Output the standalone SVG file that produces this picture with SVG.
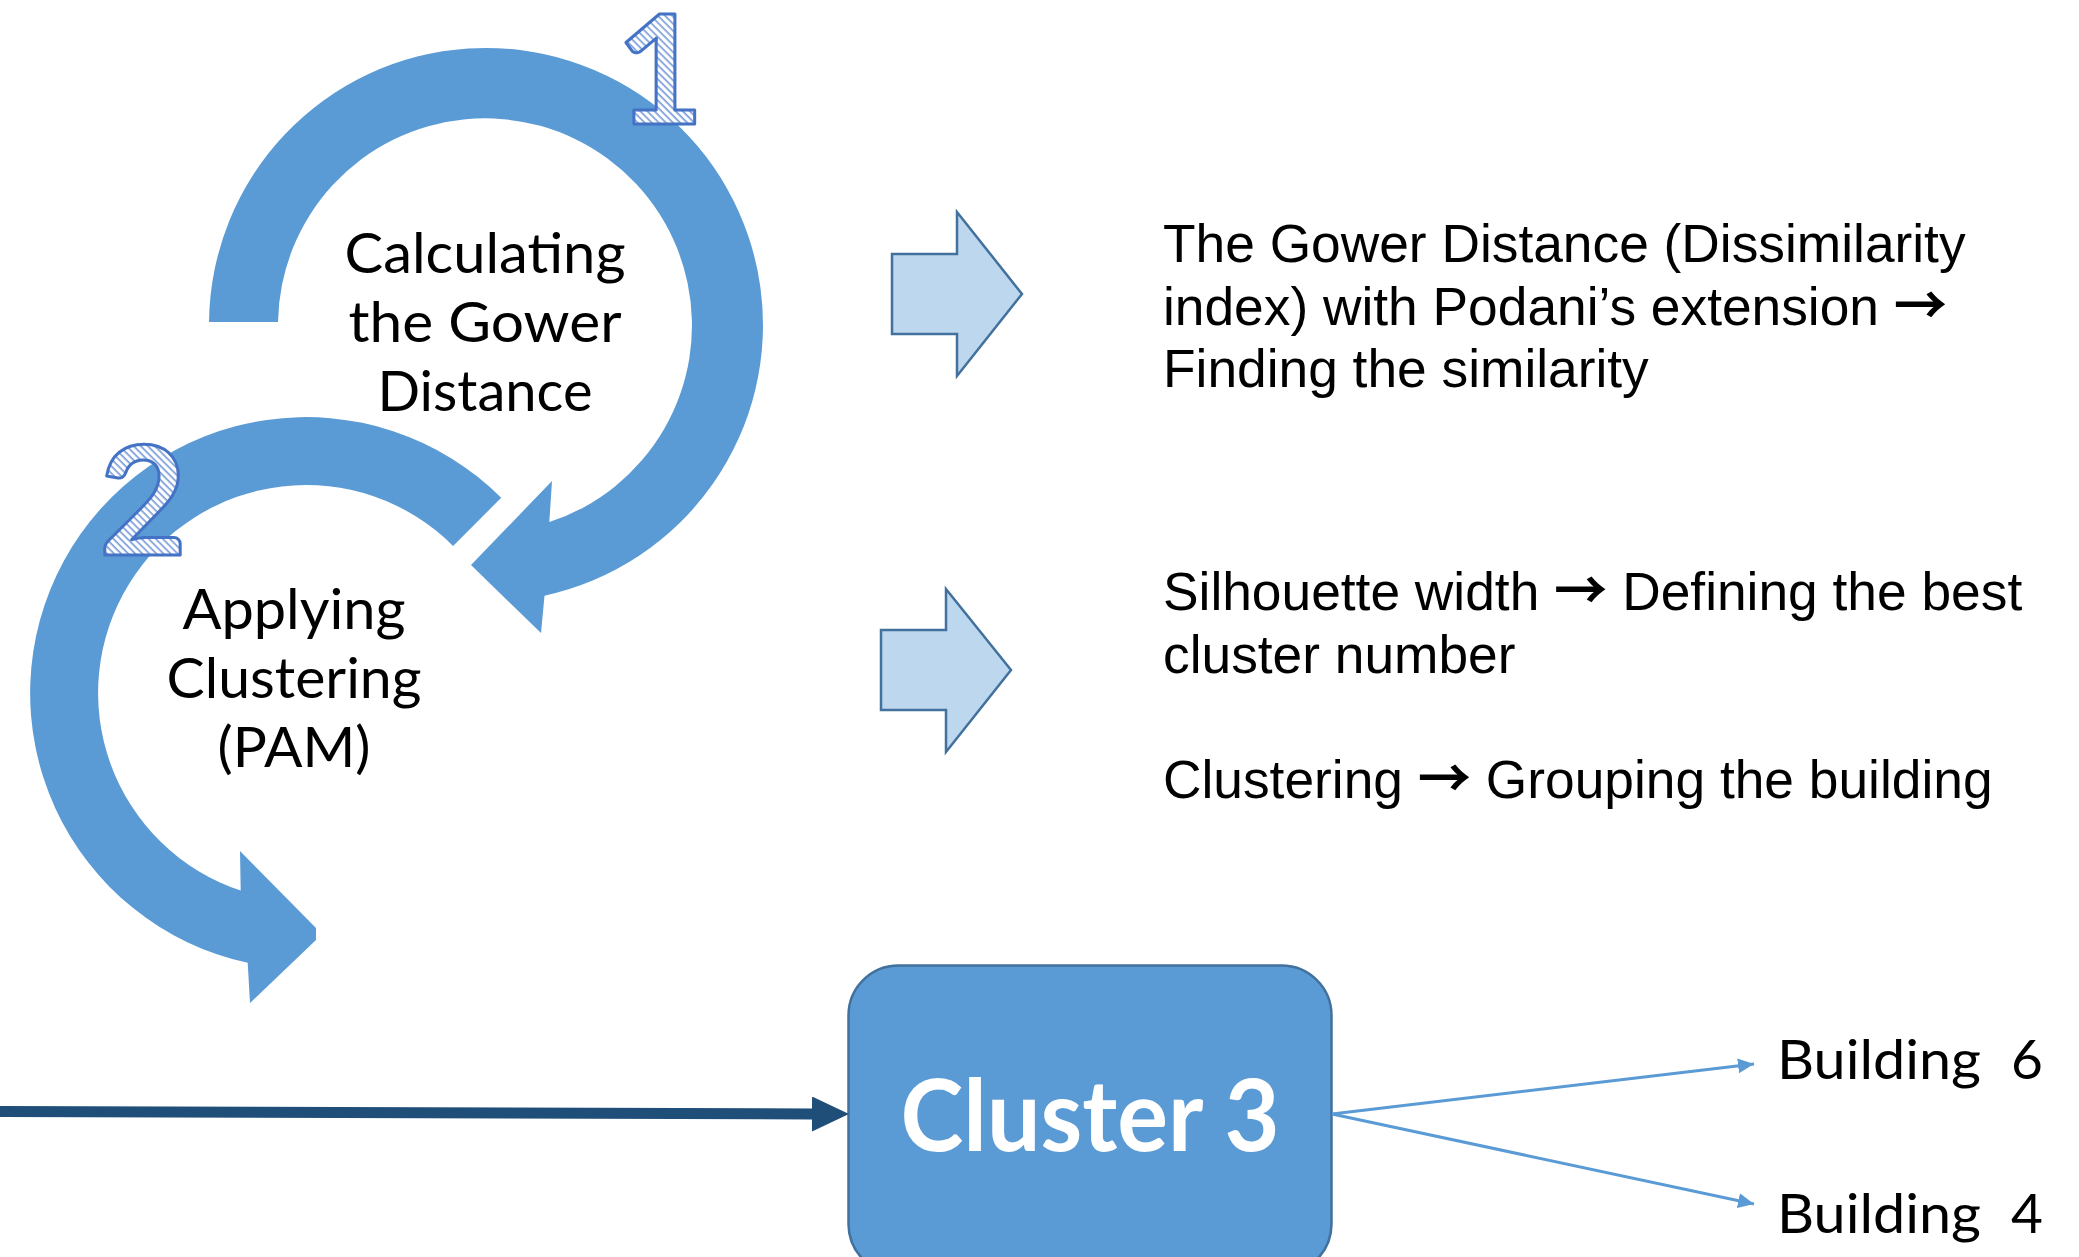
<svg xmlns="http://www.w3.org/2000/svg" width="2079" height="1257" viewBox="0 0 2079 1257">
<style>
.arc{fill:#5B9BD5;}
.blk{fill:#BDD7EE;stroke:#41719C;stroke-width:2.5;stroke-linejoin:miter;}
.lbl{font-family:Lato,"Liberation Sans",sans-serif;font-size:56px;fill:#000;text-anchor:middle;}
.num{font-family:Lato,"Liberation Sans",sans-serif;font-weight:700;font-size:152px;fill:url(#hatch);stroke:#4472C4;stroke-width:3;stroke-linejoin:round;text-anchor:middle;}
.desc{font-family:"Liberation Sans",Arial,sans-serif;font-size:53.3px;fill:#000;}
.arr{font-family:"Noto Sans CJK SC","DejaVu Sans",sans-serif;font-weight:700;}
.bld{font-family:Lato,"Liberation Sans",sans-serif;font-size:55px;fill:#000;}
.thin{stroke:#5B9BD5;stroke-width:3;fill:none;marker-end:url(#mSmall);}
.thick{stroke:#1F4E79;stroke-width:11;fill:none;marker-end:url(#mBig);}
</style>
<defs>
<pattern id="hatch" patternUnits="userSpaceOnUse" width="5" height="5" patternTransform="rotate(45)">
<rect width="5" height="5" fill="#ffffff"/>
<rect width="5" height="1.7" fill="#7C9EDC"/>
</pattern>
<marker id="mSmall" markerUnits="userSpaceOnUse" markerWidth="18" markerHeight="16" refX="16" refY="7.5" orient="auto">
<path d="M0,0 L16,7.5 L0,15 z" fill="#5B9BD5"/>
</marker>
<marker id="mBig" markerUnits="userSpaceOnUse" markerWidth="40" markerHeight="36" refX="0" refY="17.5" orient="auto">
<path d="M0,0 L37,17.5 L0,35 z" fill="#1F4E79"/>
</marker>
</defs>
<rect width="2079" height="1257" fill="#ffffff"/>

<g id="step1">
<path class="arc" d="M209,322 A277,277 0 1 1 544.5,595.7 L541,633 L471,565 L552,481 L549.3,522.1 A207,207 0 1 0 278,322 Z"/>
<text class="lbl" x="485" y="273" textLength="281" lengthAdjust="spacingAndGlyphs">Calculating</text>
<text class="lbl" x="485" y="342" textLength="273" lengthAdjust="spacingAndGlyphs">the Gower</text>
<text class="lbl" x="485" y="411" textLength="215" lengthAdjust="spacingAndGlyphs">Distance</text>
<text class="num" x="660" y="124">1</text>
</g>

<g id="step2">
<path class="arc" d="M501.2,497.8 A276,276 0 1 0 247.7,962.8 L250,1003 L316,940 L316,928 L240,851 L240.7,890.5 A208,208 0 1 1 453.1,545.9 Z"/>
<text class="lbl" x="294" y="629" textLength="223" lengthAdjust="spacingAndGlyphs">Applying</text>
<text class="lbl" x="294" y="698" textLength="255" lengthAdjust="spacingAndGlyphs">Clustering</text>
<text class="lbl" x="294" y="767" textLength="153" lengthAdjust="spacingAndGlyphs">(PAM)</text>
<text class="num" x="143" y="555">2</text>
</g>

<g id="blockArrow1">
<polygon class="blk" points="892,254 957,254 957,212 1022,294 957,376 957,334 892,334"/>
</g>
<g id="blockArrow2">
<polygon class="blk" points="881,630 946,630 946,589 1011,670 946,752 946,710 881,710"/>
</g>

<g id="desc1">
<text class="desc" x="1163" y="262">The Gower Distance (Dissimilarity</text>
<text class="desc" x="1163" y="325">index) with Podani’s extension <tspan class="arr">→</tspan></text>
<text class="desc" x="1163" y="387">Finding the similarity</text>
</g>

<g id="desc2">
<text class="desc" x="1163" y="610">Silhouette width <tspan class="arr">→</tspan> Defining the best</text>
<text class="desc" x="1163" y="673">cluster number</text>
<text class="desc" x="1163" y="798">Clustering <tspan class="arr">→</tspan> Grouping the building</text>
</g>

<g id="cluster3">
<path d="M898.5,965.5 H1281.5 A50,50 0 0 1 1331.5,1015.5 V1224 A50,50 0 0 1 1281.5,1274 H898.5 A50,50 0 0 1 848.5,1224 V1015.5 A50,50 0 0 1 898.5,965.5 Z" fill="#5B9BD5" stroke="#41719C" stroke-width="2.5"/>
<text x="1090" y="1151" font-family="Lato, 'Liberation Sans', sans-serif" font-weight="700" font-size="100" fill="#ffffff" text-anchor="middle" textLength="379" lengthAdjust="spacingAndGlyphs">Cluster 3</text>
</g>

<g id="building6">
<text class="bld" y="1079"><tspan x="1777" textLength="204" lengthAdjust="spacingAndGlyphs">Building</tspan><tspan x="2011">6</tspan></text>
</g>
<g id="building4">
<text class="bld" y="1233"><tspan x="1777" textLength="204" lengthAdjust="spacingAndGlyphs">Building</tspan><tspan x="2011">4</tspan></text>
</g>

<g id="connectors">
<line class="thick" x1="0" y1="1111.5" x2="812" y2="1114"/>
<line class="thin" x1="1332" y1="1114" x2="1754" y2="1064"/>
<line class="thin" x1="1332" y1="1114" x2="1754" y2="1204"/>
</g>
</svg>
